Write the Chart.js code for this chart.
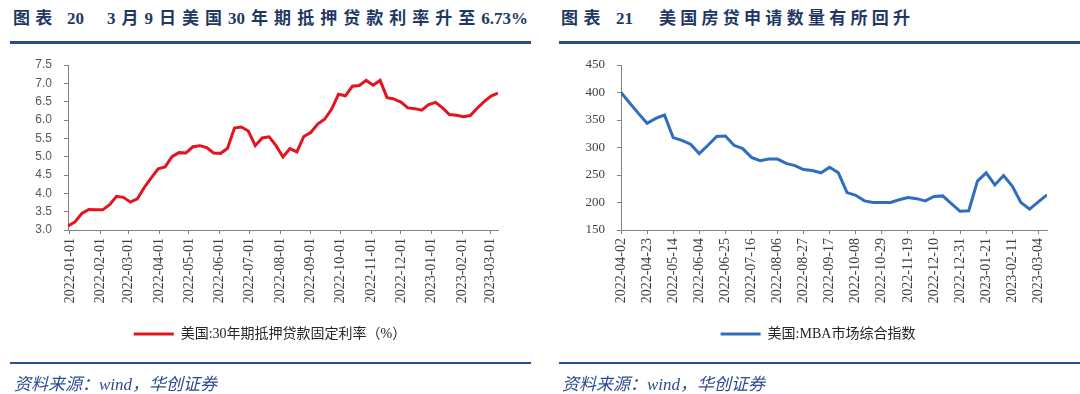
<!DOCTYPE html>
<html><head><meta charset="utf-8">
<script src="https://cdn.jsdelivr.net/npm/chart.js@4.4.1/dist/chart.umd.min.js"></script>
<style>
html,body{margin:0;padding:0;background:#fff;width:1080px;height:394px;overflow:hidden;}
body{position:relative;}
.title{position:absolute;top:8px;font-family:"Liberation Serif","Noto Sans CJK SC",serif;font-weight:bold;font-size:17px;color:#1F3864;line-height:22px;text-align:justify;text-align-last:justify;}
.rule{position:absolute;top:41px;height:3px;background:#2B4C8E;}
.frule{position:absolute;top:362px;height:2px;background:#2B4C8E;}
.src{position:absolute;top:375px;font-family:"Liberation Serif","Noto Sans CJK SC",serif;font-style:italic;font-size:17px;color:#2B4C8E;white-space:nowrap;line-height:20px;}
canvas{position:absolute;top:0;}
</style></head><body>
<div class="title" style="left:13px;width:71px">图表 20</div>
<div class="title" style="left:107px;width:421px">3月9日美国30年期抵押贷款利率升至6.73%</div>
<div class="title" style="left:561px;width:72px">图表 21</div>
<div class="title" style="left:659px;width:251px">美国房贷申请数量有所回升</div>
<div class="rule" style="left:10px;width:521px"></div>
<div class="rule" style="left:559px;width:521px"></div>
<canvas id="c1" width="540" height="394" style="left:0"></canvas>
<canvas id="c2" width="524" height="394" style="left:556px"></canvas>
<div class="frule" style="left:10px;width:521px"></div>
<div class="frule" style="left:559px;width:521px"></div>
<div class="src" style="left:14px">资料来源：wind，华创证券</div>
<div class="src" style="left:562px">资料来源：wind，华创证券</div>
<script>
// ---- Chart 20: US 30-year fixed mortgage rate (%) ----
const rateDates = ['2021-12-30',
 '2022-01-06','2022-01-13','2022-01-20','2022-01-27',
 '2022-02-03','2022-02-10','2022-02-17','2022-02-24',
 '2022-03-03','2022-03-10','2022-03-17','2022-03-24','2022-03-31',
 '2022-04-07','2022-04-14','2022-04-21','2022-04-28',
 '2022-05-05','2022-05-12','2022-05-19','2022-05-26',
 '2022-06-02','2022-06-09','2022-06-16','2022-06-23','2022-06-30',
 '2022-07-07','2022-07-14','2022-07-21','2022-07-28',
 '2022-08-04','2022-08-11','2022-08-18','2022-08-25',
 '2022-09-01','2022-09-08','2022-09-15','2022-09-22','2022-09-29',
 '2022-10-06','2022-10-13','2022-10-20','2022-10-27',
 '2022-11-03','2022-11-10','2022-11-17','2022-11-23',
 '2022-12-01','2022-12-08','2022-12-15','2022-12-22','2022-12-29',
 '2023-01-05','2023-01-12','2023-01-19','2023-01-26',
 '2023-02-02','2023-02-09','2023-02-16','2023-02-23',
 '2023-03-02','2023-03-09'];
const rateValues = [3.11,
 3.22,3.45,3.56,3.55,
 3.55,3.69,3.92,3.89,
 3.76,3.85,4.16,4.42,4.67,
 4.72,5.00,5.11,5.10,
 5.27,5.30,5.25,5.10,
 5.09,5.23,5.78,5.81,5.70,
 5.30,5.51,5.54,5.30,
 4.99,5.22,5.13,5.55,
 5.66,5.89,6.02,6.29,6.70,
 6.66,6.92,6.94,7.08,
 6.95,7.08,6.61,6.58,
 6.49,6.33,6.31,6.27,6.42,
 6.48,6.33,6.15,6.13,
 6.09,6.12,6.32,6.50,
 6.65,6.73];
const rateTickLabels = ['2022-01-01','2022-02-01','2022-03-01','2022-04-01','2022-05-01','2022-06-01','2022-07-01','2022-08-01','2022-09-01','2022-10-01','2022-11-01','2022-12-01','2023-01-01','2023-02-01','2023-03-01'];
const rateLegend = '美国:30年期抵押贷款固定利率（%）';

// ---- Chart 21: MBA market composite index ----
const mbaDates = ['2022-04-02','2022-04-09','2022-04-16','2022-04-23','2022-04-30',
 '2022-05-07','2022-05-14','2022-05-21','2022-05-28',
 '2022-06-04','2022-06-11','2022-06-18','2022-06-25',
 '2022-07-02','2022-07-09','2022-07-16','2022-07-23','2022-07-30',
 '2022-08-06','2022-08-13','2022-08-20','2022-08-27',
 '2022-09-03','2022-09-10','2022-09-17','2022-09-24',
 '2022-10-01','2022-10-08','2022-10-15','2022-10-22','2022-10-29',
 '2022-11-05','2022-11-12','2022-11-19','2022-11-26',
 '2022-12-03','2022-12-10','2022-12-17','2022-12-24','2022-12-31',
 '2023-01-07','2023-01-14','2023-01-21','2023-01-28',
 '2023-02-04','2023-02-11','2023-02-18','2023-02-25',
 '2023-03-04','2023-03-11'];
const mbaValues = [400,381,362,344,353,
 359,318,313,306,
 289,304,320,321,
 304,298,282,276,279,
 279,271,267,260,
 258,254,264,254,
 218,213,203,200,200,
 200,205,209,207,
 203,211,212,198,184,
 185,239,254,232,
 249,230,200,188,
 201,214];
const mbaTickLabels = ['2022-04-02','2022-04-23','2022-05-14','2022-06-04','2022-06-25','2022-07-16','2022-08-06','2022-08-27','2022-09-17','2022-10-08','2022-10-29','2022-11-19','2022-12-10','2022-12-31','2023-01-21','2023-02-11','2023-03-04'];
const mbaLegend = '美国:MBA市场综合指数';

function dayNum(s, base){
  const p = s.split('-').map(Number), b = base.split('-').map(Number);
  return Math.round((Date.UTC(p[0],p[1]-1,p[2]) - Date.UTC(b[0],b[1]-1,b[2]))/86400000);
}

const AXIS = '#808080';
const serifFont = '"Liberation Serif","Noto Sans CJK SC",serif';

function makeChart(id, cfg){
  const base = cfg.base;
  const pts = cfg.dates.map((d,i)=>({x: dayNum(d, base), y: cfg.values[i]}));
  const tickVals = cfg.tickLabels.map(t => dayNum(t, base));
  return new Chart(document.getElementById(id), {
    type: 'line',
    data: { datasets: [{
      label: cfg.legend, data: pts,
      borderColor: cfg.color, backgroundColor: cfg.color,
      borderWidth: 3, pointRadius: 0, tension: 0, yAxisID: 'y', xAxisID: 'x'
    }]},
    options: {
      responsive: false, animation: false, devicePixelRatio: 1,
      layout: { padding: { top: 65, bottom: 43, left: 0, right: 0 } },
      plugins: {
        tooltip: { enabled: false },
        legend: {
          position: 'bottom',
          labels: {
            boxWidth: 40, boxHeight: 3, padding: 10, color: '#262626',
            font: { family: serifFont, size: 14 },
            generateLabels: (chart) => Chart.defaults.plugins.legend.labels.generateLabels(chart)
              .map(l => Object.assign(l, { lineWidth: 0, fillStyle: cfg.color }))
          }
        }
      },
      scales: {
        x: {
          type: 'linear', min: cfg.xmin, max: cfg.xmax,
          border: { color: AXIS, width: 1 },
          grid: { drawOnChartArea: false, drawTicks: true, tickLength: 4, color: AXIS },
          afterBuildTicks: s => { s.ticks = tickVals.map(v => ({ value: v })); },
          afterFit: s => { s.height = 87; },
          ticks: {
            autoSkip: false, minRotation: 90, maxRotation: 90, padding: 4,
            color: '#404040', font: { family: '"Liberation Serif",serif', size: 14 },
            callback: (v, i) => cfg.tickLabels[i]
          }
        },
        y: {
          type: 'linear', position: 'left', min: cfg.ymin, max: cfg.ymax,
          border: { color: AXIS, width: 1 },
          grid: { drawOnChartArea: false, drawTicks: true, tickLength: 4, color: AXIS },
          afterFit: s => { s.width = cfg.yWidth; },
          ticks: {
            stepSize: cfg.step, padding: cfg.yPad, color: cfg.yColor,
            font: cfg.yFont,
            callback: v => cfg.fmt(v)
          }
        },
        y2: {
          type: 'linear', position: 'right', display: true,
          border: { display: false }, grid: { display: false },
          ticks: { display: false },
          afterFit: s => { s.width = cfg.rightPad; }
        }
      }
    }
  });
}

makeChart('c1', {
  base: '2022-01-01', dates: rateDates, values: rateValues, tickLabels: rateTickLabels,
  legend: rateLegend, color: '#E3141D',
  xmin: dayNum('2021-12-30','2022-01-01'), xmax: dayNum('2023-03-09','2022-01-01'),
  ymin: 3, ymax: 7.5, step: 0.5, fmt: v => v.toFixed(1),
  yWidth: 68, rightPad: 42, yPad: 12, yColor: '#595959',
  yFont: { family: '"Liberation Sans",sans-serif', size: 12 }
});
makeChart('c2', {
  base: '2022-04-02', dates: mbaDates, values: mbaValues, tickLabels: mbaTickLabels,
  legend: mbaLegend, color: '#2F6EBE',
  xmin: 0, xmax: dayNum('2023-03-11','2022-04-02'),
  ymin: 150, ymax: 450, step: 50, fmt: v => String(v),
  yWidth: 65, rightPad: 33, yPad: 12, yColor: '#404040',
  yFont: { family: '"Liberation Serif",serif', size: 13 }
});
</script>
</body></html>
